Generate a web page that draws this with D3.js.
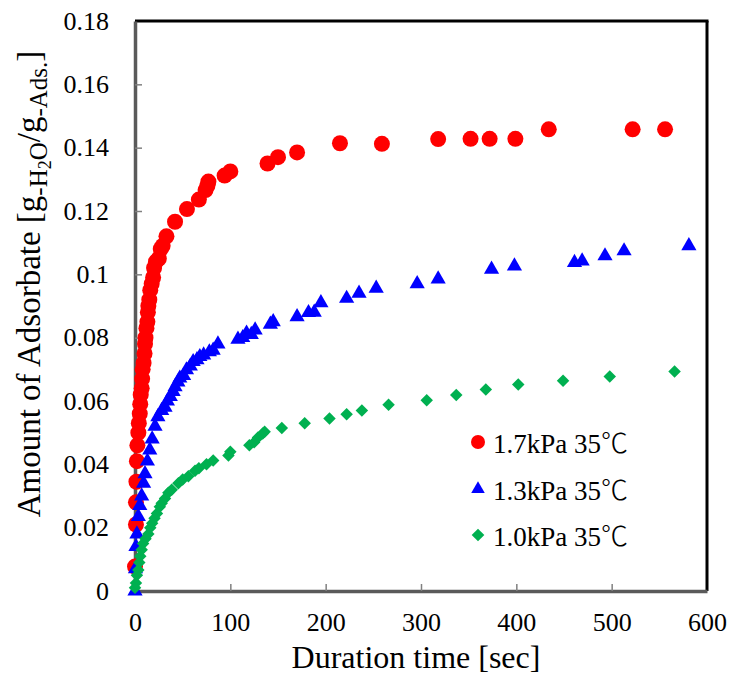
<!DOCTYPE html>
<html>
<head>
<meta charset="UTF-8">
<title>Adsorption</title>
<style>
  body { margin: 0; background: #fff; }
  svg text { font-family: "Liberation Serif", "DejaVu Serif", serif; fill: #000; }
  .tick text { font-family: "Liberation Serif", serif !important; font-size: 26px !important; }
</style>
</head>
<body>
<svg id="chart" width="732" height="684"></svg>
<script src="https://cdn.jsdelivr.net/npm/d3@7"></script>
<script>
"use strict";

// [time sec, amount]
var red17 = [
  [0,0.0077],[1,0.021],[1,0.028],[1.5,0.0345],[2,0.041],[2.5,0.046],[3.5,0.050],[4,0.053],
  [5,0.056],[5.5,0.059],[6,0.062],[7,0.064],[7.5,0.067],[8,0.070],[9,0.072],[10,0.075],
  [10.5,0.078],[11,0.080],[12,0.083],[13,0.085],[13.5,0.088],[14,0.090],[15,0.092],[16,0.095],
  [17.5,0.097],[19,0.099],[20,0.102],[22,0.104],[25,0.105],[27,0.108],[29,0.109],[33,0.112],
  [42,0.1166],[54.5,0.1206],[67,0.1236],[74,0.1266],[76,0.128],[77,0.1293],[94,0.1312],
  [100,0.1325],[139,0.135],[150,0.137],[170,0.1385],[215,0.1414],[259,0.1412],[318,0.1427],
  [352,0.1428],[372,0.1428],[399,0.1428],[434,0.1458],[522,0.1458],[556,0.1458]
];
var blue13 = [
  [0,0],[0.5,0.007],[1,0.014],[2,0.018],[3.5,0.0235],[5,0.027],[7,0.030],[9,0.034],
  [10.5,0.037],[13,0.041],[15.5,0.0445],[18,0.048],[21,0.052],[24,0.055],[28,0.057],
  [31.5,0.058],[34,0.060],[37,0.0614],[40,0.063],[42,0.0645],[45,0.066],[47,0.0672],
  [51,0.068],[54,0.0698],[58,0.071],[61,0.0724],[65,0.073],[68,0.074],[72,0.0745],
  [78,0.0755],[82,0.076],[87,0.078],[108,0.0795],[113,0.080],[117,0.0814],[122,0.081],
  [126,0.0824],[142,0.0842],[145,0.085],[170,0.0866],[182,0.0879],[188,0.088],[195,0.091],
  [222,0.0924],[235,0.094],[253,0.0956],[296,0.097],[318,0.0985],[374,0.1016],[398,0.1026],
  [461,0.1037],[469,0.1042],[493,0.1058],[513,0.1074],[581,0.109]
];
var green10 = [
  [0,0.001],[1,0.0025],[2,0.005],[3.5,0.0066],[4.5,0.009],[5.5,0.011],[7,0.013],[8.5,0.015],
  [11,0.0165],[14,0.018],[16,0.020],[18,0.0214],[20.5,0.023],[23,0.0245],[26,0.0266],
  [28,0.0277],[31.5,0.0292],[35,0.031],[38.5,0.032],[45.5,0.034],[50,0.0352],[56,0.0362],
  [63,0.038],[67,0.0388],[75,0.040],[82,0.0412],[98,0.0428],[100,0.044],[120,0.046],
  [125,0.047],[129,0.0485],[134,0.0497],[136,0.0503],[154,0.0515],[178,0.053],[204,0.0545],
  [222,0.0558],[238,0.057],[266,0.0588],[306,0.0602],[337,0.0619],[368,0.0636],[402,0.0652],
  [449,0.0664],[498,0.0677],[566,0.0693]
];
var seriesNames = ["1.7kPa 35", "1.3kPa 35", "1.0kPa 35"];
var xTicks = [0,100,200,300,400,500,600];
var yTicks = [0,0.02,0.04,0.06,0.08,0.1,0.12,0.14,0.16,0.18];

var pL = 135, pR = 707, pT = 21, pB = 591;
var svg = d3.select("#chart");

var x = d3.scaleLinear().domain([0,600]).range([pL,pR]);
var y = d3.scaleLinear().domain([0,0.18]).range([pB,pT]);

// frame: top/right black
svg.append("line").attr("x1",pL).attr("x2",pR+1.5).attr("y1",pT).attr("y2",pT)
  .attr("stroke","#000").attr("stroke-width",3);
svg.append("line").attr("x1",pR).attr("x2",pR).attr("y1",pT).attr("y2",pB)
  .attr("stroke","#000").attr("stroke-width",3);

// axes
var xAxis = d3.axisBottom(x).tickValues(xTicks).tickSizeInner(-7).tickSizeOuter(0).tickPadding(22);
var yAxis = d3.axisLeft(y).tickValues(yTicks).tickSizeInner(-7).tickSizeOuter(0).tickPadding(26)
  .tickFormat(function(d){ return d === 0 ? "0" : String(+d.toFixed(2)); });

var gx = svg.append("g").attr("transform","translate(0,"+pB+")").call(xAxis);
var gy = svg.append("g").attr("transform","translate("+pL+",0)").call(yAxis);
[gx,gy].forEach(function(g){
  g.attr("font-family", null).attr("font-size", null);
  g.select(".domain").attr("stroke","#5a5a5a").attr("stroke-width",3.5);
  g.selectAll(".tick line").attr("stroke","#808080").attr("stroke-width",1.5);
  g.selectAll(".tick text").attr("fill","#000");
});
gx.selectAll(".tick").filter(function(d){ return d === 0 || d === 600; }).select("line").remove();
gy.selectAll(".tick").filter(function(d){ return d === 0 || d === 0.18; }).select("line").remove();

// axis titles
svg.append("text").attr("x",416).attr("y",668).attr("text-anchor","middle")
  .style("font-size","32px").text("Duration time [sec]");

var yt = svg.append("text").attr("transform","translate(40,284) rotate(-90)")
  .attr("text-anchor","middle").style("font-size","33px");
yt.append("tspan").text("Amount of Adsorbate [g");
yt.append("tspan").style("font-size","25px").attr("dy",7).text("-H");
yt.append("tspan").style("font-size","18px").attr("dy",4).text("2");
yt.append("tspan").style("font-size","25px").attr("dy",-4).text("O");
yt.append("tspan").attr("dy",-7).text("/g");
yt.append("tspan").style("font-size","25px").attr("dy",7).text("-Ads");
yt.append("tspan").style("font-size","25px").text(".");
yt.append("tspan").attr("dy",-7).text("]");

// markers
var circleSym = d3.symbol().type(d3.symbolCircle).size(Math.PI*8*8);
var triSym = d3.symbol().type(d3.symbolTriangle).size(100);
var diaSym = d3.symbol().type(d3.symbolSquare).size(78);

function drawSeries(data, sym, color, rot){
  svg.append("g").selectAll("path").data(data).enter().append("path")
    .attr("d", sym)
    .attr("transform", function(d){ return "translate("+x(d[0])+","+y(d[1])+")"+(rot ? " rotate(45)" : ""); })
    .attr("fill", color);
}
drawSeries(red17, circleSym, "#ff0000", false);
drawSeries(blue13, triSym, "#0000ff", false);
drawSeries(green10, diaSym, "#00b050", true);

// legend
var legSym = [
  d3.symbol().type(d3.symbolCircle).size(Math.PI*7*7),
  d3.symbol().type(d3.symbolTriangle).size(80),
  d3.symbol().type(d3.symbolSquare).size(80)
];
var legend = [
  {name: seriesNames[0], sym: legSym[0], color: "#ff0000", rot: false, cy: 442},
  {name: seriesNames[1], sym: legSym[1], color: "#0000ff", rot: false, cy: 489},
  {name: seriesNames[2], sym: legSym[2], color: "#00b050", rot: true, cy: 535}
];
var lg = svg.append("g").selectAll("g").data(legend).enter().append("g");
lg.append("path").attr("d", function(d){ return d.sym(); })
  .attr("transform", function(d){ return "translate(478,"+d.cy+")"+(d.rot ? " rotate(45)" : ""); })
  .attr("fill", function(d){ return d.color; });
var lt = lg.append("text").attr("x",493).attr("y",function(d){ return d.cy + 11; })
  .style("font-size","27px");
lt.append("tspan").text(function(d){ return d.name; });
lt.append("tspan").style("font-family",'"Noto Sans CJK JP"').style("font-weight","300").text("\u2103");
</script>
</body>
</html>
